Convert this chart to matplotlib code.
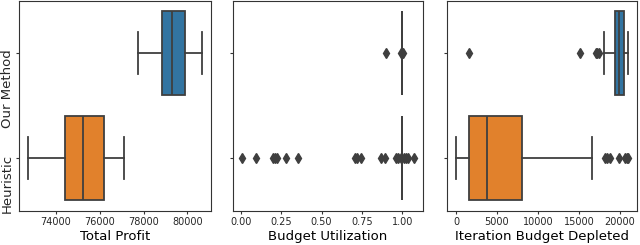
import matplotlib.pyplot as plt
from matplotlib.transforms import ScaledTranslation

categories = ["Our Method", "Heuristic"]
colors = ["#3274a1", "#e1812c"]

# Total Profit: q1, median, q3, whisker low, whisker high
profit_q1 = [78820, 74410]
profit_med = [79320, 75240]
profit_q3 = [79910, 76210]
profit_lo = [77730, 72710]
profit_hi = [80680, 77100]
profit_fliers = [[], []]

# Budget Utilization
util_q1 = [1.0, 1.0]
util_med = [1.0, 1.0]
util_q3 = [1.0, 1.0]
util_lo = [1.0, 1.0]
util_hi = [1.0, 1.0]
util_fliers = [
    [0.902, 0.995, 1.0, 1.005],
    [0.004, 0.092, 0.200, 0.210, 0.222, 0.280, 0.355, 0.705, 0.722, 0.742,
     0.868, 0.892, 0.960, 0.975, 0.990, 1.010, 1.025, 1.035, 1.076],
]

# Iteration Budget Depleted
iter_q1 = [19410, 1610]
iter_med = [19900, 3830]
iter_q3 = [20500, 8060]
iter_lo = [18080, 0]
iter_hi = [21020, 16580]
iter_fliers = [
    [1600, 15180, 17100, 17250, 17400],
    [18200, 18450, 18750, 19900, 20650, 20850, 21000],
]

xlabels = ["Total Profit", "Budget Utilization", "Iteration Budget Depleted"]
panels = [
    (profit_q1, profit_med, profit_q3, profit_lo, profit_hi, profit_fliers),
    (util_q1, util_med, util_q3, util_lo, util_hi, util_fliers),
    (iter_q1, iter_med, iter_q3, iter_lo, iter_hi, iter_fliers),
]
xticks = [
    [74000, 76000, 78000, 80000],
    [0.0, 0.25, 0.5, 0.75, 1.0],
    [0, 5000, 10000, 15000, 20000],
]
xticklabels = [
    ["74000", "76000", "78000", "80000"],
    ["0.00", "0.25", "0.50", "0.75", "1.00"],
    ["0", "5000", "10000", "15000", "20000"],
]

gray = "#3f3f3f"
fig = plt.figure(figsize=(6.4, 2.45), dpi=100)
lefts = [0.0297, 0.364, 0.699]
widths = [0.300, 0.297, 0.296]

for k, (q1, med, q3, lo, hi, fl) in enumerate(panels):
    ax = fig.add_axes([lefts[k], 0.139, widths[k], 0.857])
    stats = []
    for i in range(len(categories)):
        stats.append(dict(q1=q1[i], med=med[i], q3=q3[i],
                          whislo=lo[i], whishi=hi[i], fliers=fl[i]))
    bp = ax.bxp(stats, positions=[0, 1], widths=0.8, vert=False,
                patch_artist=True, showfliers=True,
                boxprops=dict(edgecolor=gray, linewidth=1.3),
                medianprops=dict(color=gray, linewidth=1.3),
                whiskerprops=dict(color=gray, linewidth=1.3),
                capprops=dict(color=gray, linewidth=1.3),
                flierprops=dict(marker="d", markersize=5,
                                markerfacecolor=gray, markeredgecolor=gray))
    for patch, c in zip(bp["boxes"], colors):
        patch.set_facecolor(c)
    ax.set_ylim(1.5, -0.5)
    ax.margins(x=0.05)
    for s in ax.spines.values():
        s.set_color("#333333")
    ax.tick_params(colors="#333333", labelcolor="#262626", length=2.5)
    ax.tick_params(axis="x", pad=2)
    ax.tick_params(axis="y", pad=1)
    ax.set_yticks([0, 1])
    if k == 0:
        ax.set_yticklabels(categories, rotation=90, va="top", fontsize=9.5)
        shift = ScaledTranslation(0, 0.045, fig.dpi_scale_trans)
        for lab in ax.get_yticklabels():
            lab.set_transform(lab.get_transform() + shift)
    else:
        ax.set_yticklabels([])
    ax.set_xticks(xticks[k])
    ax.set_xticklabels(xticklabels[k], fontsize=7)
    ax.set_xlabel(xlabels[k], fontsize=9.5, labelpad=2)

fig.savefig("out.png", dpi=100)
